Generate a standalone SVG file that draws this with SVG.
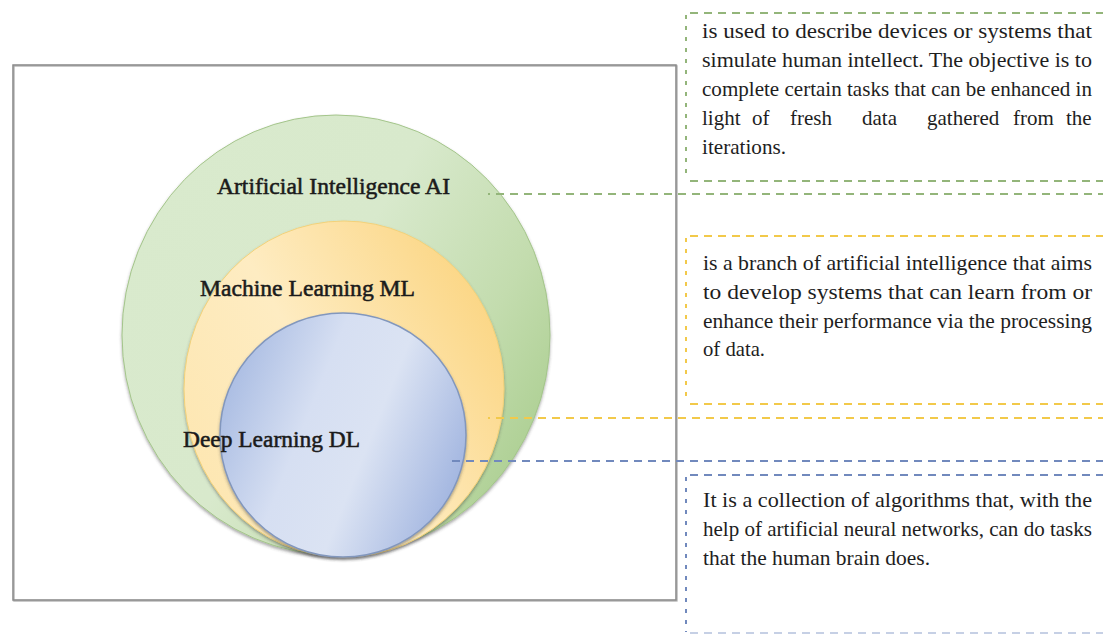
<svg xmlns="http://www.w3.org/2000/svg" width="1103" height="641" viewBox="0 0 1103 641">
<defs>
<style>
.lbl{font-family:'Liberation Serif','DejaVu Serif','Noto Serif',serif;font-size:23.5px;fill:#1b1b1b;stroke:#1b1b1b;stroke-width:0.55}
.txt{font-family:'Liberation Serif','DejaVu Serif','Noto Serif',serif;font-size:21px;fill:#1e1e1e}
.dash{fill:none;stroke-width:2;stroke-dasharray:8 6}
.vdash{fill:none;stroke-width:2;stroke-dasharray:4 7}
.g{stroke:#93b57a}
.y{stroke:#f2c94a}
.b{stroke:#7189bd}
</style>
<linearGradient id="gGreen" x1="0" y1="0.2" x2="1" y2="0.8">
<stop offset="0" stop-color="#d9eacd"/>
<stop offset="0.45" stop-color="#d8e9cc"/>
<stop offset="0.75" stop-color="#c3dcae"/>
<stop offset="1" stop-color="#a9cd8e"/>
</linearGradient>
<linearGradient id="gYellow" x1="0" y1="0.8" x2="1" y2="0.2">
<stop offset="0" stop-color="#fde6b0"/>
<stop offset="0.45" stop-color="#feecc2"/>
<stop offset="1" stop-color="#fbd47f"/>
</linearGradient>
<linearGradient id="gBlue" x1="0" y1="0.3" x2="1" y2="0.7">
<stop offset="0" stop-color="#a8bbe2"/>
<stop offset="0.35" stop-color="#d6dff2"/>
<stop offset="0.6" stop-color="#dbe3f3"/>
<stop offset="1" stop-color="#9fb3df"/>
</linearGradient>
<filter id="sh" x="-10%" y="-10%" width="120%" height="125%">
<feDropShadow dx="0" dy="2" stdDeviation="1.5" flood-color="#404040" flood-opacity="0.45"/>
</filter>
<filter id="fsh" x="-5%" y="-5%" width="110%" height="110%">
<feDropShadow dx="0.8" dy="0.8" stdDeviation="0.6" flood-color="#505050" flood-opacity="0.5"/>
</filter>
</defs>
<rect x="0" y="0" width="1103" height="641" fill="#ffffff"/>

<g id="frame">
<rect x="13" y="65" width="663" height="535" fill="none" stroke="#8a8a8a" stroke-width="1.5" filter="url(#fsh)"/>
</g>

<g id="node-ai">
<ellipse cx="336" cy="335" rx="214" ry="220" fill="url(#gGreen)" stroke="#a4c58b" stroke-width="1" filter="url(#sh)"/>
</g>
<g id="node-ml">
<ellipse cx="344" cy="389" rx="160" ry="168" fill="url(#gYellow)" stroke="#f3d27a" stroke-width="1" filter="url(#sh)"/>
</g>
<g id="node-dl">
<ellipse cx="343" cy="435" rx="123" ry="122" fill="url(#gBlue)" stroke="#8297bd" stroke-width="1.5" filter="url(#sh)"/>
</g>

<g id="labels" font-family="'Liberation Serif','DejaVu Serif','Noto Serif',serif">
<text class="lbl" x="217" y="194" textLength="233" lengthAdjust="spacingAndGlyphs">Artificial Intelligence AI</text>
<text class="lbl" x="200" y="296" textLength="215" lengthAdjust="spacingAndGlyphs">Machine Learning ML</text>
<text class="lbl" x="183" y="447" textLength="177" lengthAdjust="spacingAndGlyphs">Deep Learning DL</text>
</g>

<g id="connectors">
<line class="dash g" x1="488" y1="194" x2="1103" y2="194" stroke-dashoffset="6"/>
<line class="dash y" x1="488" y1="418" x2="1103" y2="418" stroke-dashoffset="6"/>
<line class="dash b" x1="452" y1="461" x2="1103" y2="461"/>
</g>

<g id="box-ai" font-family="'Liberation Serif','DejaVu Serif','Noto Serif',serif">
<line class="dash g" x1="690" y1="13" x2="1103" y2="13"/>
<line class="vdash g" x1="686" y1="15" x2="686" y2="180"/>
<line class="dash g" x1="690" y1="181" x2="1103" y2="181"/>
<text class="txt" x="702" y="38" textLength="390" lengthAdjust="spacingAndGlyphs">is used to describe devices or systems that</text>
<text class="txt" x="702" y="67" textLength="390" lengthAdjust="spacingAndGlyphs">simulate human intellect. The objective is to</text>
<text class="txt" x="702" y="96" textLength="390" lengthAdjust="spacingAndGlyphs">complete certain tasks that can be enhanced in</text>
<text class="txt" y="125"><tspan x="702">light</tspan><tspan x="752">of</tspan><tspan x="790">fresh</tspan><tspan x="862">data</tspan><tspan x="927">gathered</tspan><tspan x="1013">from</tspan><tspan x="1066">the</tspan></text>
<text class="txt" x="702" y="154" textLength="84" lengthAdjust="spacingAndGlyphs">iterations.</text>
</g>

<g id="box-ml" font-family="'Liberation Serif','DejaVu Serif','Noto Serif',serif">
<line class="dash y" x1="690" y1="236" x2="1103" y2="236"/>
<line class="vdash y" x1="686" y1="238" x2="686" y2="403"/>
<line class="dash y" x1="690" y1="404" x2="1103" y2="404"/>
<text class="txt" x="703" y="270" textLength="389" lengthAdjust="spacingAndGlyphs">is a branch of artificial intelligence that aims</text>
<text class="txt" x="703" y="299" textLength="389" lengthAdjust="spacingAndGlyphs">to develop systems that can learn from or</text>
<text class="txt" x="703" y="328" textLength="389" lengthAdjust="spacingAndGlyphs">enhance their performance via the processing</text>
<text class="txt" x="703" y="356" textLength="62" lengthAdjust="spacingAndGlyphs">of data.</text>
</g>

<g id="box-dl" font-family="'Liberation Serif','DejaVu Serif','Noto Serif',serif">
<line class="dash b" x1="690" y1="475" x2="1103" y2="475"/>
<line class="vdash b" x1="686" y1="477" x2="686" y2="632"/>
<line class="dash b" x1="690" y1="633" x2="1103" y2="633" opacity="0.4"/>
<text class="txt" x="703" y="507" textLength="389" lengthAdjust="spacingAndGlyphs">It is a collection of algorithms that, with the</text>
<text class="txt" x="703" y="536" textLength="389" lengthAdjust="spacingAndGlyphs">help of artificial neural networks, can do tasks</text>
<text class="txt" x="703" y="565" textLength="227" lengthAdjust="spacingAndGlyphs">that the human brain does.</text>
</g>
</svg>
